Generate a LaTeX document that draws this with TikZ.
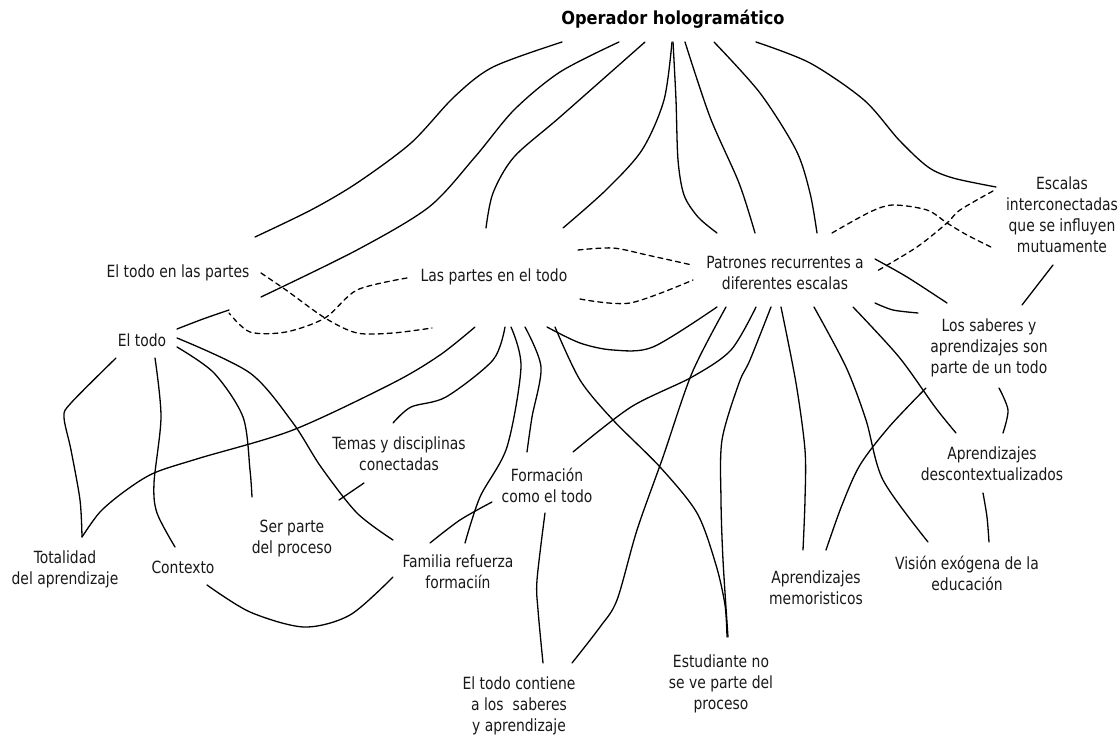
\documentclass[tikz,border=0pt]{standalone}
\usepackage{fontspec}
\newfontfamily\mapfont[FakeStretch=0.92]{DejaVu Sans Condensed}
\newfontfamily\headfont{DejaVu Sans Condensed Bold}
\begin{document}
\begin{tikzpicture}[x=1pt,y=-1pt,
  concept/.style={font=\mapfont\fontsize{16.8}{21}\selectfont, align=center, inner sep=0pt, text=black!90},
  headline/.style={font=\headfont\fontsize{18}{20}\selectfont, inner sep=0pt},
  link/.style={line width=1.3pt, line cap=round, black},
  crosslink/.style={link, dash pattern=on 5pt off 4pt},
]
\useasboundingbox[fill=white] (0,0) rectangle (1120,736);

% concepts
\node[headline] (title) at (673,19) {Operador hologramático};
\node[concept] (todoPartes) at (178,273) {El todo en las partes};
\node[concept] (partesTodo) at (494,277) {Las partes en el todo};
\node[concept] (patrones) at (785,273) {Patrones recurrentes a\\diferentes escalas};
\node[concept] (escalas) at (1062,215) {Escalas\\interconectadas\\que se influyen\\mutuamente};
\node[concept] (elTodo) at (142,340) {El todo};
\node[concept] (saberes) at (989,348) {Los saberes y\\aprendizajes son\\parte de un todo};
\node[concept] (temas) at (399,454) {Temas y disciplinas\\conectadas};
\node[concept] (formacion) at (547,485) {Formación\\como el todo};
\node[concept] (descontext) at (992,464) {Aprendizajes\\descontextualizados};
\node[concept] (totalidad) at (65,569) {Totalidad\\del aprendizaje};
\node[concept] (contexto) at (183,567) {Contexto};
\node[concept] (serParte) at (292,539) {Ser parte\\del proceso};
\node[concept] (familia) at (458,572) {Familia refuerza\\formaciín};
\node[concept] (contiene) at (519,706) {El todo contiene\\a los~ saberes\\y aprendizaje};
\node[concept] (estudiante) at (721,684) {Estudiante no\\se ve parte del\\proceso};
\node[concept] (memoristicos) at (816,588) {Aprendizajes\\memoristicos};
\node[concept] (vision) at (967,573) {Visión exógena de la\\educación};

% links fanning out of the headline
\draw[link] plot[smooth] coordinates {(562,42) (493,67) (454,97) (411,143) (357,183) (311,210) (255,237)};
\draw[link] plot[smooth] coordinates {(619,42) (560,72) (514,110) (475,157) (429,207) (357,250) (261,297)};
\draw[link] plot[smooth] coordinates {(229,310) (203,319) (177,329)};
\draw[link] plot[smooth] coordinates {(645,42) (560,117) (514,157) (493,193) (486,228)};
\draw[link] plot[smooth] coordinates {(672,42) (664,100) (642,150) (606,190) (563,228)};
\draw[link] plot[smooth] coordinates {(673,42) (676,100) (678,160) (684,195) (698,217) (717,233)};
\draw[link] plot[smooth] coordinates {(685,42) (710,117) (739,183) (755,233)};
\draw[link] plot[smooth] coordinates {(714,42) (760,93) (796,150) (810,193) (817,233)};
\draw[link] plot[smooth] coordinates {(756,42) (810,63) (864,100) (899,140) (928,167) (953,178) (996,187)};

% dashed cross links
\draw[crosslink] plot[smooth] coordinates {(261,273) (286,290) (325,318) (357,333) (393,333) (432,328)};
\draw[crosslink] plot[smooth] coordinates {(407,278) (357,290) (325,318) (286,332) (250,332) (229,313)};
\draw[crosslink] plot[smooth] coordinates {(578,250) (613,248) (647,255) (692,265)};
\draw[crosslink] plot[smooth] coordinates {(580,299) (630,303) (693,280)};
\draw[crosslink] plot[smooth] coordinates {(993,191) (960,210) (947,223) (917,247) (877,271)};
\draw[crosslink] plot[smooth] coordinates {(832,233) (870,212) (893,205) (927,210) (947,223) (967,235) (993,248)};

% links below "El todo"
\draw[link] plot[smooth] coordinates {(116,358) (71,403) (64,417) (71,450) (80,500) (82,537)};
\draw[link] plot[smooth] coordinates {(155,358) (161,417) (154,483) (157,513) (175,547)};
\draw[link] plot[smooth] coordinates {(177,347) (214,373) (243,417) (250,470) (252,497)};
\draw[link] plot[smooth] coordinates {(177,338) (250,373) (293,423) (321,467) (357,513) (393,540)};

% links below "Las partes en el todo"
\draw[link] plot[smooth] coordinates {(475,327) (440,355) (393,383) (293,430) (200,458) (154,473) (125,491) (100,512) (82,537)};
\draw[link] plot[smooth] coordinates {(505,327) (493,360) (446,397) (411,407) (393,423)};
\draw[link] plot[smooth] coordinates {(364,483) (339,500)};
\draw[link] plot[smooth] coordinates {(511,327) (521,367) (507,447) (480,497) (465,543)};
\draw[link] plot[smooth] coordinates {(525,327) (541,367) (532,417) (527,452)};
\draw[link] plot[smooth] coordinates {(547,327) (580,343) (613,350) (653,347) (717,307)};
\draw[link] plot[smooth] coordinates {(555,327) (580,380) (613,420) (660,467) (697,513) (716,565) (725,605) (727,637)};
\draw[link] plot[smooth] coordinates {(545,513) (537,580) (538,610) (543,663)};
\draw[link] plot[smooth] coordinates {(430,543) (460,520) (492,502)};
\draw[link] plot[smooth] coordinates {(207,585) (250,612) (304,627) (350,615) (393,577)};

% links below "Patrones recurrentes"
\draw[link] plot[smooth] coordinates {(726,307) (692,373) (663,457) (637,530) (617,600) (600,627) (572,663)};
\draw[link] plot[smooth] coordinates {(756,307) (731,350) (692,377) (631,407) (573,452)};
\draw[link] plot[smooth] coordinates {(771,307) (750,360) (739,383) (722,440) (721,500) (723,560) (728,637)};
\draw[link] plot[smooth] coordinates {(781,307) (796,383) (805,450) (805,500) (803,550)};
\draw[link] plot[smooth] coordinates {(814,307) (846,367) (866,420) (883,480) (928,542)};
\draw[link] plot[smooth] coordinates {(853,307) (899,357) (935,407) (956,433)};
\draw[link] plot[smooth] coordinates {(875,259) (907,277) (947,303)};
\draw[link] plot[smooth] coordinates {(875,303) (893,310) (918,313)};

% links around "Los saberes"
\draw[link] plot[smooth] coordinates {(1053,265) (1022,305)};
\draw[link] plot[smooth] coordinates {(926,388) (889,427) (860,465) (842,505) (826,550)};
\draw[link] plot[smooth] coordinates {(999,388) (1008,410) (1003,433)};
\draw[link] plot[smooth] coordinates {(983,493) (987,517) (989,542)};
\end{tikzpicture}
\end{document}
